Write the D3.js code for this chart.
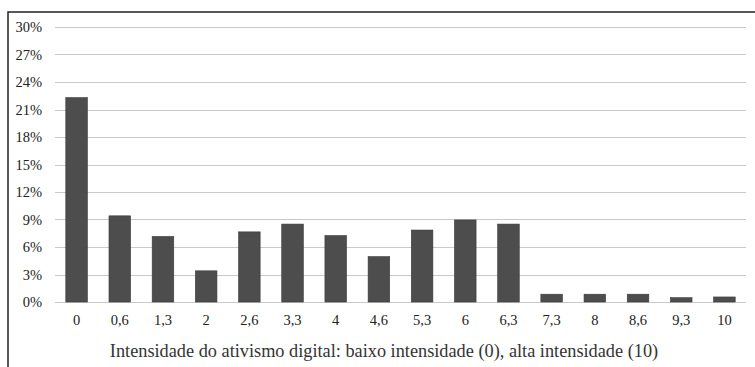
<!DOCTYPE html>
<html>
<head>
<meta charset="utf-8">
<script src="https://cdn.jsdelivr.net/npm/d3@7"></script>
<style>
  body { margin: 0; background: #fff; }
  text { font-family: "Liberation Serif", "Times New Roman", serif; fill: #222; }
</style>
</head>
<body>
<div id="chart"></div>
<script>
// categories (intensidade) and share of respondents (%)
var categories = ["0", "0,6", "1,3", "2", "2,6", "3,3", "4", "4,6", "5,3", "6", "6,3", "7,3", "8", "8,6", "9,3", "10"];
var values = [22.3, 9.4, 7.15, 3.4, 7.65, 8.5, 7.25, 4.95, 7.85, 8.95, 8.5, 0.85, 0.85, 0.85, 0.47, 0.55];
var yTicks = [0, 3, 6, 9, 12, 15, 18, 21, 24, 27, 30];
var xTitle = "Intensidade do ativismo digital: baixo intensidade (0), alta intensidade (10)";

var W = 755, H = 367;
var margin = { top: 27, right: 9, bottom: 65, left: 55 };

var svg = d3.select("#chart").append("svg")
    .attr("width", W)
    .attr("height", H);

// frame (top + left edges only)
svg.append("path")
    .attr("d", "M8,367 V12 H755")
    .attr("fill", "none")
    .attr("stroke", "#222")
    .attr("stroke-width", 1.5);

var x = d3.scaleBand()
    .domain(categories)
    .range([margin.left, W - margin.right])
    .paddingInner(0.5)
    .paddingOuter(0.25);

var y = d3.scaleLinear()
    .domain([0, 30])
    .range([H - margin.bottom, margin.top]);

// gridlines
svg.append("g")
    .selectAll("line")
    .data(yTicks)
    .enter().append("line")
    .attr("x1", margin.left)
    .attr("x2", W - margin.right)
    .attr("y1", function (d) { return Math.round(y(d)) + 0.5; })
    .attr("y2", function (d) { return Math.round(y(d)) + 0.5; })
    .attr("stroke", "#c9c9c9")
    .attr("stroke-width", 1.2);

// y labels
svg.append("g")
    .selectAll("text")
    .data(yTicks)
    .enter().append("text")
    .attr("x", 42)
    .attr("y", function (d) { return y(d); })
    .attr("dy", "0.35em")
    .attr("text-anchor", "end")
    .style("font-size", "14.5px")
    .text(function (d) { return d + "%"; });

// bars
svg.append("g")
    .selectAll("rect")
    .data(values)
    .enter().append("rect")
    .attr("x", function (d, i) { return x(categories[i]); })
    .attr("y", function (d) { return y(d); })
    .attr("width", x.bandwidth())
    .attr("height", function (d) { return y(0) - y(d); })
    .attr("fill", "#4d4d4d")
    .attr("stroke", "#3a3a3a")
    .attr("stroke-width", 0.6);

// x labels
svg.append("g")
    .selectAll("text")
    .data(categories)
    .enter().append("text")
    .attr("x", function (d) { return x(d) + x.bandwidth() / 2; })
    .attr("y", y(0) + 23)
    .attr("text-anchor", "middle")
    .style("font-size", "14.5px")
    .text(function (d) { return d; });

// axis title
svg.append("text")
    .attr("x", 384)
    .attr("y", 357)
    .attr("text-anchor", "middle")
    .style("font-size", "18.3px")
    .style("fill", "#333")
    .text(xTitle);
</script>
</body>
</html>
